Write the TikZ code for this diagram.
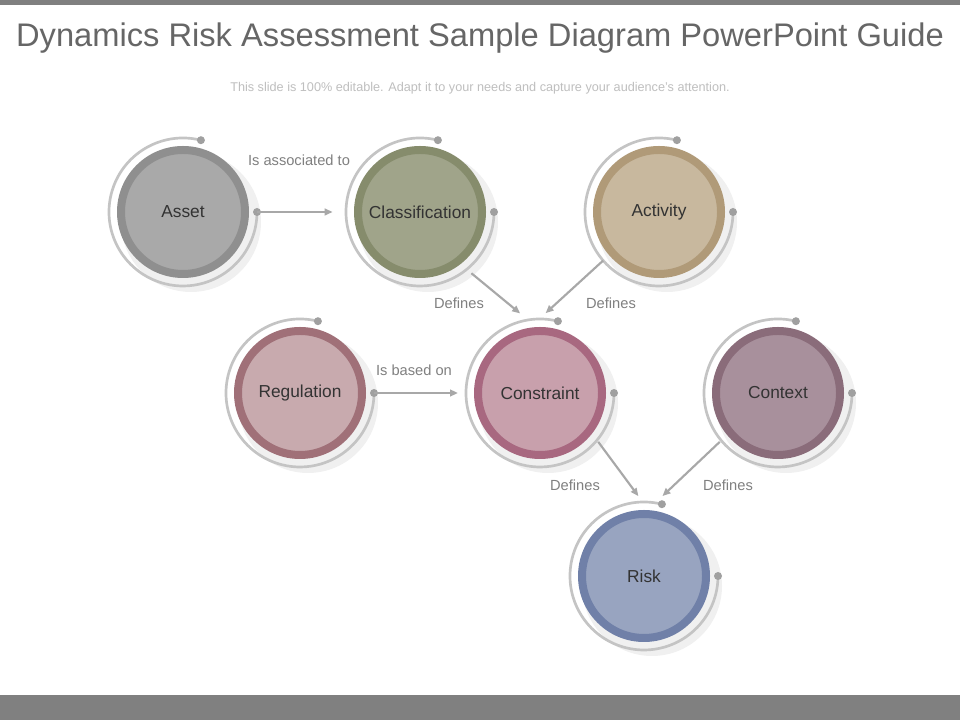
\documentclass[tikz,border=0pt]{standalone}
\usepackage{fontspec}
\setmainfont{Liberation Sans}
\usetikzlibrary{arrows.meta}

\definecolor{bar}{HTML}{808080}
\definecolor{arcgray}{HTML}{C4C4C4}
\definecolor{dotgray}{HTML}{A0A0A0}
\definecolor{linkgray}{HTML}{A8A8A8}
\definecolor{assetring}{HTML}{8F8F8F}\definecolor{assetfill}{HTML}{A9A9A9}
\definecolor{classring}{HTML}{868C6C}\definecolor{classfill}{HTML}{A0A48A}
\definecolor{actring}{HTML}{B09A78}\definecolor{actfill}{HTML}{C8B89E}
\definecolor{regring}{HTML}{A07078}\definecolor{regfill}{HTML}{C8AAAE}
\definecolor{consring}{HTML}{A86880}\definecolor{consfill}{HTML}{C8A0AC}
\definecolor{ctxring}{HTML}{8A6C7A}\definecolor{ctxfill}{HTML}{A8909C}
\definecolor{riskring}{HTML}{7080A8}\definecolor{riskfill}{HTML}{98A4C0}

\tikzset{
    item/.style = {
        circle, 
        minimum size=93pt, 
        line width=6pt, 
        align=center, 
        font=\fontsize{13}{15}\selectfont, 
        text=black!80
    },
    link/.style = {
        draw=linkgray, 
        line width=1.6pt, 
        -{Triangle[length=6pt,width=5pt]}
    },
    linklabel/.style = {
        font=\fontsize{11}{13}\selectfont, 
        text=black!50
    }
}

% circle with its open ring and the dot at the ring's end
\newcommand{\riskitem}[6]{%
  \fill[black, opacity=0.06] (#2+8,#3-10) circle[radius=70];
  \node (#1) [item, draw=#5, fill=#6] at (#2,#3) {#4};
  \draw[arcgray, line width=2pt] ([shift={(76:74)}]#1.center) arc[start angle=76, end angle=360, radius=74];
  \fill[dotgray] ([shift={(76:74)}]#1.center) circle[radius=4];
  \fill[dotgray] ([shift={(0:74)}]#1.center) circle[radius=4];
  \coordinate (#1-dot) at ([shift={(0:74)}]#1.center);
}

\begin{document}
\begin{tikzpicture}[x=0.75pt, y=0.75pt]
\useasboundingbox (0,0) rectangle (960,720);
\fill[white] (0,0) rectangle (960,720);
\fill[bar] (0,715) rectangle (960,720);
\fill[bar] (0,0) rectangle (960,25);

\node (title) at (480,682) {\fontsize{24.5}{28}\selectfont\color{black!60}Dynamics Risk Assessment Sample Diagram PowerPoint Guide};
\node (subtitle) at (480,632) {\fontsize{9.5}{11}\selectfont\color{black!25}This slide is 100\% editable. Adapt it to your needs and capture your audience's attention.};

\riskitem{asset}{183}{508}{Asset}{assetring}{assetfill}
\riskitem{classification}{420}{508}{Classification}{classring}{classfill}
\riskitem{activity}{659}{508}{Activity}{actring}{actfill}
\riskitem{regulation}{300}{327}{Regulation}{regring}{regfill}
\riskitem{constraint}{540}{327}{Constraint}{consring}{consfill}
\riskitem{context}{778}{327}{Context}{ctxring}{ctxfill}
\riskitem{risk}{644}{144}{Risk}{riskring}{riskfill}

% Arrows
\draw [link] (asset-dot) -- ([xshift=-16pt]classification.west);
\draw [link] (regulation-dot) -- ([xshift=-12pt]constraint.west |- regulation-dot);
\draw [link] ([shift={(-50:80)}]classification.center) -- ([shift={(104:82)}]constraint.center);
\draw [link] ([shift={(221:74)}]activity.center) -- ([shift={(86:80)}]constraint.center);
\draw [link] ([shift={(-40:76)}]constraint.center) -- ([shift={(94:80)}]risk.center);
\draw [link] ([shift={(220:76)}]context.center) -- ([shift={(77:82)}]risk.center);

% Labels
\node (l1) [linklabel] at (299,560) {Is associated to};
\node (l2) [linklabel] at (459,417) {Defines};
\node (l3) [linklabel] at (611,417) {Defines};
\node (l4) [linklabel] at (414,350) {Is based on};
\node (l5) [linklabel] at (575,235) {Defines};
\node (l6) [linklabel] at (728,235) {Defines};

\end{tikzpicture}
\end{document}
